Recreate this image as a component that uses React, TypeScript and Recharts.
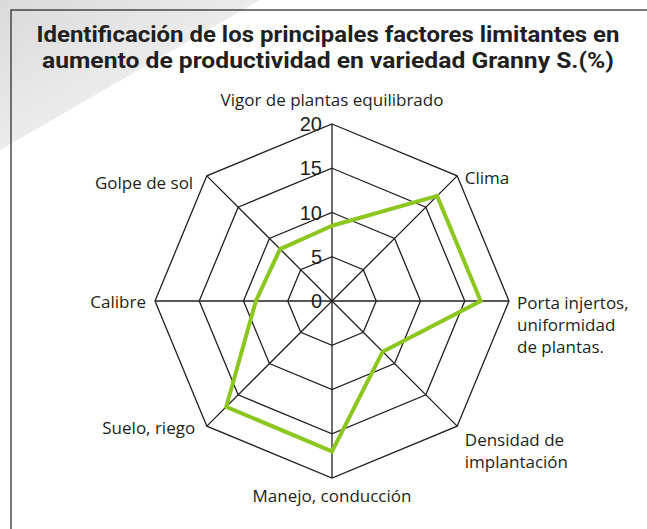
import React from 'react';
import { RadarChart, Radar, PolarGrid, PolarAngleAxis, PolarRadiusAxis } from 'recharts';

const factors = [
  'Vigor de plantas equilibrado',
  'Clima',
  'Porta injertos,|uniformidad|de plantas.',
  'Densidad de|implantación',
  'Manejo, conducción',
  'Suelo, riego',
  'Calibre',
  'Golpe de sol',
];
const values = [8.5, 16.8, 16.8, 8.1, 17, 16.9, 8.6, 8.3];
const radiusTicks = [0, 5, 10, 15, 20];
const titleLines = [
  'Identificación de los principales factores limitantes en',
  'aumento de productividad en variedad Granny S.(%)',
];

const data = factors.map((f, i) => ({ factor: f, value: values[i] }));

const labelFont = "'Open Sans', 'Noto Sans', sans-serif";

const AngleTick = (props: any) => {
  const { x, y, payload, index } = props;
  const lines = String(payload.value).split('|');
  let anchor = 'middle';
  let tx = x;
  let ty = y;
  let lh = 22;
  switch (index) {
    case 0: anchor = 'middle'; ty = y - 10; break;
    case 1: anchor = 'start'; tx = x + 2; ty = y + 14; break;
    case 2: anchor = 'start'; tx = x; ty = y + 8; break;
    case 3: anchor = 'start'; tx = x + 2; ty = y + 14; break;
    case 4: anchor = 'middle'; ty = y + 16; break;
    case 5: anchor = 'end'; tx = x - 6; ty = y + 2; break;
    case 6: anchor = 'end'; tx = x - 1; ty = y + 7; break;
    case 7: anchor = 'end'; tx = x - 8; ty = y + 19; break;
  }
  return (
    <g>
      {lines.map((l, i) => (
        <text key={i} x={tx} y={ty + i * lh} textAnchor={anchor} fill="#231f20" fontSize={17}
          fontFamily={labelFont}>
          {l}
        </text>
      ))}
    </g>
  );
};

const RadiusTick = (props: any) => {
  const { x, y, payload } = props;
  return (
    <text x={x - 10} y={y + 7} textAnchor="end" fill="#231f20" fontSize={20}
      fontFamily="'Liberation Sans', Arial, sans-serif">
      {payload.value}
    </text>
  );
};

export default function App() {
  return (
    <div style={{ position: 'absolute', left: 0, top: 0, width: 647, height: 529, background: '#fff' }}>
      <svg width={647} height={529} style={{ position: 'absolute', left: 0, top: 0 }}>
        <defs>
          <linearGradient id="wedge" x1="0" y1="0" x2="1" y2="1">
            <stop offset="0%" stopColor="#dadada" />
            <stop offset="60%" stopColor="#efefef" />
            <stop offset="100%" stopColor="#fbfbfb" />
          </linearGradient>
        </defs>
        <rect x={0} y={0} width={647} height={529} fill="#fff" />
        <polygon points="0,0 260,0 0,150" fill="url(#wedge)" />
        <rect x={11} y={10} width={640} height={525} fill="none" stroke="#231f20" strokeWidth={1.2} />
        {titleLines.map((t, i) => (
          <text key={i} x={328} y={42 + i * 26} textAnchor="middle" fontSize={22} fontWeight={700}
            fill="#231f20" fontFamily="Roboto, 'DejaVu Sans', sans-serif"
            textLength={i === 0 ? 583 : 572} lengthAdjust="spacingAndGlyphs">
            {t}
          </text>
        ))}
      </svg>
      <div style={{ position: 'absolute', left: 0, top: 0 }}>
        <RadarChart width={647} height={529} cx={332} cy={301} outerRadius={177} data={data}
          margin={{ top: 0, right: 0, bottom: 0, left: 0 }}>
          <PolarGrid gridType="polygon" stroke="#231f20" strokeWidth={1.3} strokeOpacity={1} />
          <PolarAngleAxis dataKey="factor" tick={<AngleTick />} tickLine={false} axisLine={false} />
          <PolarRadiusAxis angle={90} domain={[0, 20]} ticks={radiusTicks} tickCount={5}
            axisLine={false} tick={<RadiusTick />} />
          <Radar dataKey="value" stroke="#8cc61e" strokeWidth={4} fill="none" fillOpacity={0}
            isAnimationActive={false} dot={false} />
        </RadarChart>
      </div>
    </div>
  );
}
